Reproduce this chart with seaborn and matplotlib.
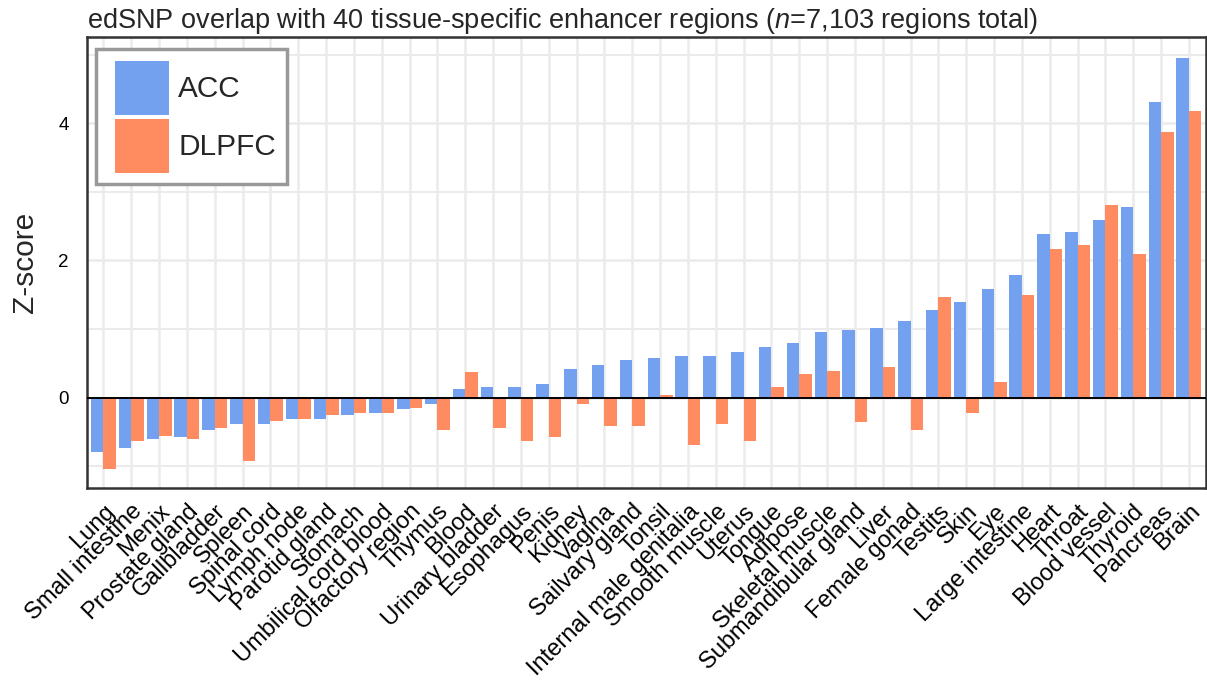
import matplotlib
matplotlib.use("Agg")
import matplotlib.pyplot as plt
import pandas as pd
import seaborn as sns
from matplotlib.legend_handler import HandlerPatch
from matplotlib.patches import Patch, Rectangle
from matplotlib.ticker import FixedLocator, MultipleLocator

# Tissues, ordered by ACC z-score
tissues = [
    "Lung", "Small intestine", "Menix", "Prostate gland", "Gallbladder",
    "Spleen", "Spinal cord", "Lymph node", "Parotid gland", "Stomach",
    "Umbilical cord blood", "Olfactory region", "Thymus", "Blood",
    "Urinary bladder", "Esophagus", "Penis", "Kidney", "Vagina",
    "Sailvary gland", "Tonsil", "Internal male genitalia", "Smooth muscle",
    "Uterus", "Tongue", "Adipose", "Skeletal muscle", "Submandibular gland",
    "Liver", "Female gonad", "Testits", "Skin", "Eye", "Large intestine",
    "Heart", "Throat", "Blood vessel", "Thyroid", "Pancreas", "Brain",
]

acc_z = [
    -0.79, -0.73, -0.60, -0.57, -0.48, -0.39, -0.38, -0.32, -0.31, -0.26,
    -0.22, -0.17, -0.10, 0.12, 0.15, 0.15, 0.20, 0.42, 0.48, 0.55,
    0.58, 0.60, 0.60, 0.67, 0.73, 0.80, 0.95, 0.99, 1.01, 1.11,
    1.27, 1.40, 1.59, 1.79, 2.38, 2.42, 2.59, 2.78, 4.31, 4.96,
]

dlpfc_z = [
    -1.05, -0.64, -0.56, -0.60, -0.45, -0.92, -0.35, -0.32, -0.26, -0.23,
    -0.22, -0.16, -0.47, 0.37, -0.45, -0.63, -0.58, -0.09, -0.42, -0.41,
    0.04, -0.69, -0.39, -0.64, 0.16, 0.34, 0.39, -0.36, 0.45, -0.48,
    1.46, -0.22, 0.22, 1.49, 2.17, 2.22, 2.81, 2.10, 3.88, 4.18,
]

regions = ["ACC", "DLPFC"]
region_colors = {"ACC": "#73A0EF", "DLPFC": "#FF8C61"}
y_ticks = [0, 2, 4]

df = pd.DataFrame({
    "Tissue": tissues * 2,
    "Region": ["ACC"] * len(tissues) + ["DLPFC"] * len(tissues),
    "Z": acc_z + dlpfc_z,
})

sns.set_theme(style="white")
plt.rcParams["font.family"] = ["Liberation Sans", "DejaVu Sans"]
plt.rcParams["mathtext.fontset"] = "custom"
plt.rcParams["mathtext.rm"] = "Liberation Sans"
plt.rcParams["mathtext.it"] = "Liberation Sans:italic"

fig = plt.figure(figsize=(12.07, 6.82), dpi=100)
ax = fig.add_axes([0.0718, 0.2845, 0.9271, 0.6612])

sns.barplot(
    data=df, x="Tissue", y="Z", hue="Region",
    order=tissues, hue_order=regions, palette=region_colors,
    width=0.9, saturation=1, errorbar=None, linewidth=0,
    ax=ax, zorder=2,
)

ax.set_xlim(-0.6, len(tissues) - 0.4)
ax.set_ylim(-1.32, 5.26)

# Grid: every category, every integer z
ax.set_axisbelow(True)
ax.yaxis.set_major_locator(FixedLocator(y_ticks))
ax.yaxis.set_minor_locator(MultipleLocator(1))
ax.grid(which="major", color="#EBEBEB", linewidth=1.8, zorder=0)
ax.grid(which="minor", axis="y", color="#EBEBEB", linewidth=1.4, zorder=0)
ax.axhline(0, color="black", linewidth=1.4, zorder=3)

for side in ["left", "right", "top", "bottom"]:
    ax.spines[side].set_visible(True)
    ax.spines[side].set_color("#333333")
    ax.spines[side].set_linewidth(1.8)

ax.tick_params(axis="both", which="major", length=6.5, width=1.6,
               color="#333333", labelcolor="black")
ax.tick_params(axis="x", pad=2.5)
ax.tick_params(axis="y", which="minor", length=0)
ax.tick_params(axis="y", labelsize=13.5, pad=6.5)

ax.set_xticks(range(len(tissues)))
ax.set_xticklabels(tissues, rotation=45, ha="right", va="top",
                   rotation_mode="anchor", fontsize=17)

ax.set_xlabel("")
ax.set_ylabel("Z-score", fontsize=21.5, labelpad=13.5)

ax.set_title(
    r"edSNP overlap with 40 tissue-specific enhancer regions ($\it{n}$=7,103 regions total)",
    loc="left", fontsize=19.5, pad=6.5,
)


# Square legend keys, set in from the left edge of the legend box
SWATCH_PT = 38.9


def inset_swatch(legend, orig_handle, xdescent, ydescent, width, height, fontsize):
    return Rectangle((-xdescent + width - SWATCH_PT, -ydescent), SWATCH_PT, height)


sns.move_legend(
    ax, loc="upper left", bbox_to_anchor=(0.0083, 0.9727), borderaxespad=0,
    title=None, fontsize=21.4, handlelength=2.09, handleheight=2.42,
    labelspacing=0.14, handletextpad=0.3, borderpad=0.38,
    frameon=True, fancybox=False, edgecolor="#999999", framealpha=1,
    handler_map={Patch: HandlerPatch(patch_func=inset_swatch)},
)
ax.get_legend().get_frame().set_linewidth(2.5)

fig.savefig("out.png", dpi=100)
